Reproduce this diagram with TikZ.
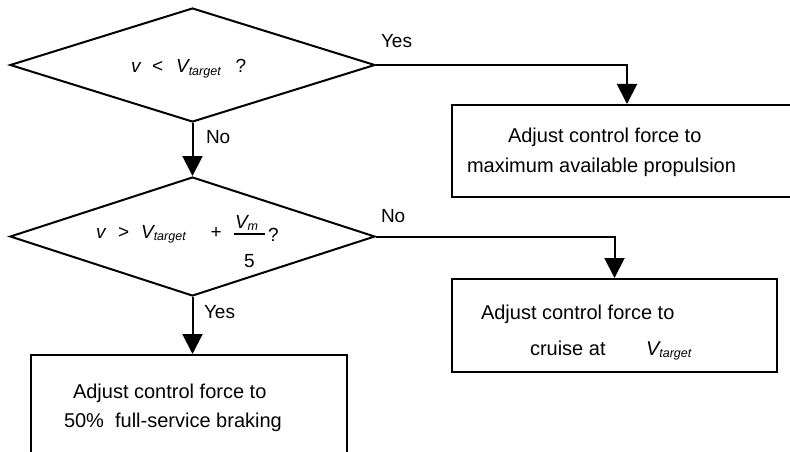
\documentclass[tikz,border=0pt]{standalone}
\usepackage{fontspec}
\setmainfont{Liberation Sans}
\usetikzlibrary{shapes.geometric,arrows.meta}
\newcommand{\subtxt}[1]{\raisebox{-2pt}{\fontsize{12.5}{14}\selectfont\itshape #1}}
\begin{document}
\begin{tikzpicture}[x=1pt,y=-1pt,
  line width=2pt,
  dec/.style={draw,diamond,minimum width=365pt,inner sep=0pt,line join=miter},
  act/.style={draw,rectangle,inner sep=0pt},
  txt/.style={anchor=base west,inner sep=0pt,font=\fontsize{20}{24}\selectfont},
  lab/.style={anchor=base west,inner sep=0pt,font=\fontsize{19}{22}\selectfont},
  arr/.style={-{Triangle[width=20pt,length=20pt]}},
]
\useasboundingbox (0,0) rectangle (790,452);
\clip (0,0) rectangle (790,452);

% decisions
\node[dec,minimum height=114pt] (d1) at (192.5,65) {};
\node[dec,minimum height=119pt] (d2) at (192.5,236.5) {};

% actions
\node[act,minimum width=350pt,minimum height=92pt] (b1) at (627,151) {};
\node[act,minimum width=325pt,minimum height=93pt] (b2) at (614.5,325.5) {};
\node[act,minimum width=316pt,minimum height=130pt] (b3) at (189,420) {};

% connectors
\draw[arr] (d1.east) -| (b1.north);
\draw[arr] (d1.south) -- (d2.north);
\draw[arr] (d2.east) -| (b2.north);
\draw[arr] (d2.south) -- (d2.south |- b3.north);

% connector labels
\node[lab] (l1) at (380,48) {Yes};
\node[lab] (l2) at (205,143) {No};
\node[lab] (l3) at (380,222) {No};
\node[lab] (l4) at (203,318) {Yes};

% decision texts
\node[lab] (q1) at (130,73) {\itshape v\upshape\hspace{11.5pt}<\hspace{13pt}\itshape V\subtxt{target}\upshape\hspace{15pt}?};
\node[lab] (q2) at (95,238) {\itshape v\upshape\hspace{12.5pt}>\hspace{12pt}\itshape V\subtxt{target}\upshape\hspace{25pt}+};
\node[lab] (q2n) at (234,228) {\itshape V\subtxt{m}};
\draw[line width=1.5pt] (234,234) -- (265,234);
\node[lab] (q2d) at (243,267) {5};
\node[lab] (q2q) at (267,241) {?};

% action texts
\node[txt] (t1a) at (507,142) {Adjust control force to};
\node[txt] (t1b) at (466,172) {maximum available propulsion};
\node[txt] (t2a) at (480,319) {Adjust control force to};
\node[txt] (t2b) at (529,355) {cruise at};
\node[txt] (t2c) at (645,355) {\itshape V\subtxt{target}};
\node[txt] (t3a) at (72,398) {Adjust control force to};
\node[txt] (t3b) at (63,427) {50\%\ \ full-service braking};
\end{tikzpicture}
\end{document}
